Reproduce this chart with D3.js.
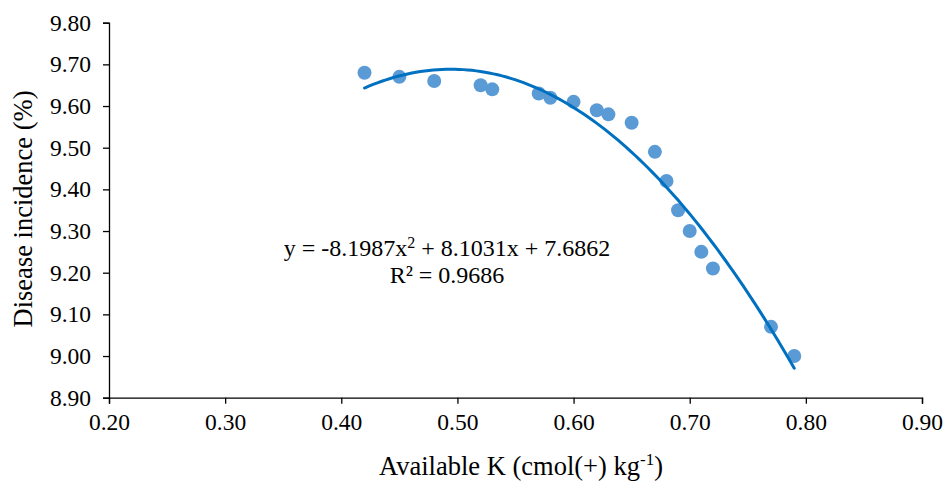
<!DOCTYPE html>
<html>
<head>
<meta charset="utf-8">
<script src="https://cdn.jsdelivr.net/npm/d3@7"></script>
<style>
  body { margin: 0; background: #fff; }
  svg text { font-family: "Liberation Serif", "Times New Roman", Times; fill: #000; }
</style>
</head>
<body>
<div id="chart"></div>
<script>
"use strict";

// data
const availK = [0.42, 0.45, 0.48, 0.52, 0.53, 0.57, 0.58, 0.60, 0.62, 0.63, 0.65, 0.67, 0.68, 0.69, 0.70, 0.71, 0.72, 0.77, 0.79];
const incidence = [9.68, 9.67, 9.66, 9.65, 9.64, 9.63, 9.62, 9.61, 9.59, 9.58, 9.56, 9.49, 9.42, 9.35, 9.30, 9.25, 9.21, 9.07, 9.00];
const xTicks = [0.20, 0.30, 0.40, 0.50, 0.60, 0.70, 0.80, 0.90];
const yTicks = [8.90, 9.00, 9.10, 9.20, 9.30, 9.40, 9.50, 9.60, 9.70, 9.80];
const coef = [-8.1987, 8.1031, 7.6862]; // y = a x^2 + b x + c

const width = 945, height = 481;
const margin = { top: 22.7, right: 23, bottom: 83.3, left: 109 };
const serif = "'Liberation Serif', 'Times New Roman', Times";

const svg = d3.select("#chart").append("svg")
  .attr("width", width)
  .attr("height", height);

const x = d3.scaleLinear().domain([0.2, 0.9]).range([margin.left, width - margin.right]);
const y = d3.scaleLinear().domain([8.9, 9.8]).range([height - margin.bottom, margin.top]);

// axes
const xAxis = svg.append("g")
  .attr("transform", `translate(0,${height - margin.bottom})`)
  .call(d3.axisBottom(x).tickValues(xTicks).tickFormat(d3.format(".2f")).tickSizeOuter(0).tickSize(6).tickPadding(10));
const yAxis = svg.append("g")
  .attr("transform", `translate(${margin.left},0)`)
  .call(d3.axisLeft(y).tickValues(yTicks).tickFormat(d3.format(".2f")).tickSizeOuter(0).tickSize(6).tickPadding(12));

[xAxis, yAxis].forEach(g => {
  g.attr("font-family", null);
  g.select(".domain").attr("stroke", "#000").attr("stroke-width", 1.3);
  g.selectAll(".tick line").attr("stroke", "#000").attr("stroke-width", 1.3);
  g.selectAll(".tick text")
    .attr("font-size", "23.5px")
    .attr("fill", "#000")
    .style("font-family", serif);
});

// points
svg.append("g").selectAll("circle")
  .data(availK.map((k, i) => ({ k, v: incidence[i] })))
  .enter().append("circle")
  .attr("cx", d => x(d.k))
  .attr("cy", d => y(d.v))
  .attr("r", 7)
  .attr("fill", "#5B9BD5");

// polynomial trendline
const poly = t => coef[0] * t * t + coef[1] * t + coef[2];
const xs = d3.range(0, 101).map(i => d3.min(availK) + (d3.max(availK) - d3.min(availK)) * i / 100);
svg.append("path")
  .datum(xs)
  .attr("fill", "none")
  .attr("stroke", "#0070C0")
  .attr("stroke-width", 3)
  .attr("stroke-linecap", "round")
  .attr("d", d3.line().x(d => x(d)).y(d => y(poly(d))));

// equation label
const eq = svg.append("text")
  .attr("x", 447)
  .attr("y", 256)
  .attr("text-anchor", "middle")
  .attr("font-size", "24px");
eq.append("tspan").text("y = -8.1987x");
eq.append("tspan").attr("font-size", "16px").attr("dy", -8).text("2");
eq.append("tspan").attr("dy", 8).text(" + 8.1031x + 7.6862");

svg.append("text")
  .attr("x", 447)
  .attr("y", 283)
  .attr("text-anchor", "middle")
  .attr("font-size", "24px")
  .text("R² = 0.9686");

// axis titles
const xt = svg.append("text")
  .attr("x", 521)
  .attr("y", 475)
  .attr("text-anchor", "middle")
  .attr("font-size", "26.5px");
xt.append("tspan").text("Available K (cmol(+) kg");
xt.append("tspan").attr("font-size", "17px").attr("dy", -10).text("-1");
xt.append("tspan").attr("dy", 10).text(")");

svg.append("text")
  .attr("transform", "rotate(-90)")
  .attr("x", -209)
  .attr("y", 32)
  .attr("text-anchor", "middle")
  .attr("font-size", "26.5px")
  .text("Disease incidence (%)");
</script>
</body>
</html>
